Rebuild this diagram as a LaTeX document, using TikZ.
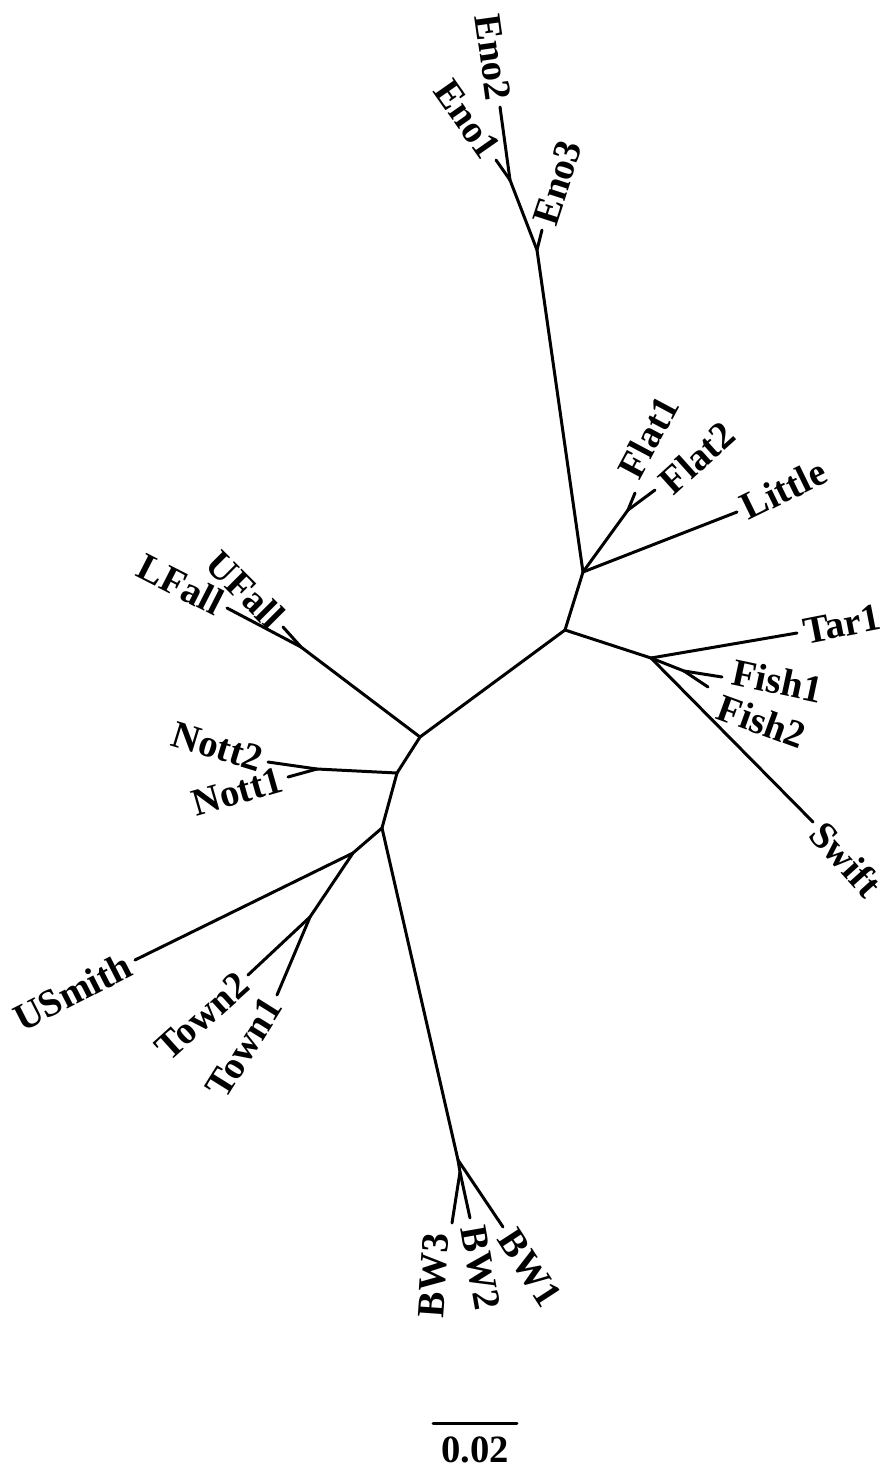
\documentclass[tikz,border=0pt]{standalone}
\usepackage{fontspec}
\setmainfont{Liberation Serif}
\usetikzlibrary{positioning}

\begin{document}
\begin{tikzpicture}[x=0.02cm, y=-0.02cm, line width=1.7pt, line cap=round,
    taxon/.style={font=\fontsize{22}{26}\selectfont\bfseries, inner sep=3pt}]
    \useasboundingbox (0,0) rectangle (886,1471);
    % inner nodes of the tree
    \coordinate (eno) at (537,250);
    \coordinate (eno12) at (510,180);
    \coordinate (flatlit) at (583,572);
    \coordinate (flat) at (628,510);
    \coordinate (mid) at (565,630);
    \coordinate (tar) at (651,658);
    \coordinate (fish) at (684,671);
    \coordinate (fall) at (420,737);
    \coordinate (ufall) at (301,647);
    \coordinate (nott) at (397,773);
    \coordinate (nott12) at (317,769);
    \coordinate (bw) at (382,828);
    \coordinate (usm) at (353,853);
    \coordinate (town) at (310,917);
    \coordinate (bw123) at (458,1160);
    \coordinate (bw23) at (460,1172);
    % tips
    \coordinate (eno2) at (500,107);
    \coordinate (eno1) at (496,160);
    \coordinate (eno3) at (542,230);
    \coordinate (flat1) at (635,493);
    \coordinate (flat2) at (655,490);
    \coordinate (little) at (737,512);
    \coordinate (tar1) at (797,633);
    \coordinate (fish1) at (722,677);
    \coordinate (fish2) at (708,687);
    \coordinate (swift) at (813,822);
    \coordinate (lfall) at (227,608);
    \coordinate (ufalltip) at (283,627);
    \coordinate (nott2) at (268,762);
    \coordinate (nott1) at (288,777);
    \coordinate (usmith) at (135,960);
    \coordinate (town2) at (248,975);
    \coordinate (town1) at (277,995);
    \coordinate (bw3) at (452,1223);
    \coordinate (bw2) at (470,1218);
    \coordinate (bw1) at (503,1227);

    % branches
    \path (eno) edge (eno12) edge (eno3) edge (flatlit);
    \path (eno12) edge (eno2) edge (eno1);
    \path (flatlit) edge (flat) edge (little) edge (mid);
    \path (flat) edge (flat1) edge (flat2);
    \path (mid) edge (tar) edge (fall);
    \path (tar) edge (tar1) edge (fish) edge (swift);
    \path (fish) edge (fish1) edge (fish2);
    \path (fall) edge (ufall) edge (nott);
    \path (ufall) edge (lfall) edge (ufalltip);
    \path (nott) edge (nott12) edge (bw);
    \path (nott12) edge (nott2) edge (nott1);
    \path (bw) edge (usm) edge (bw123);
    \path (usm) edge (usmith) edge (town);
    \path (town) edge (town2) edge (town1);
    \path (bw123) edge (bw1) edge (bw23);
    \path (bw23) edge (bw2) edge (bw3);

    % taxon labels
    \node[taxon, anchor=east, rotate=-82] (leno2) at (eno2) {Eno2};
    \node[taxon, anchor=east, rotate=-55] (leno1) at (eno1) {Eno1};
    \node[taxon, anchor=west, rotate=72] (leno3) at (eno3) {Eno3};
    \node[taxon, anchor=west, rotate=62] (lflat1) at ([shift={(-10,-12)}]flat1) {Flat1};
    \node[taxon, anchor=west, rotate=42] (lflat2) at ([shift={(5,1)}]flat2) {Flat2};
    \node[taxon, anchor=west, rotate=26] (llittle) at (little) {Little};
    \node[taxon, anchor=west, rotate=11] (ltar1) at (tar1) {Tar1};
    \node[taxon, anchor=west, rotate=-12] (lfish1) at ([shift={(5,-7)}]fish1) {Fish1};
    \node[taxon, anchor=west, rotate=-20] (lfish2) at ([shift={(5,17)}]fish2) {Fish2};
    \node[taxon, anchor=west, rotate=-48] (lswift) at (swift) {Swift};
    \node[taxon, anchor=east, rotate=-27] (llfall) at (lfall) {LFall};
    \node[taxon, anchor=east, rotate=-45] (lufall) at (ufalltip) {UFall};
    \node[taxon, anchor=east, rotate=-17] (lnott2) at (nott2) {Nott2};
    \node[taxon, anchor=east, rotate=16] (lnott1) at (nott1) {Nott1};
    \node[taxon, anchor=east, rotate=27] (lusmith) at (usmith) {USmith};
    \node[taxon, anchor=east, rotate=42] (ltown2) at (town2) {Town2};
    \node[taxon, anchor=east, rotate=58] (ltown1) at (town1) {Town1};
    \node[taxon, anchor=east, rotate=86] (lbw3) at ([shift={(-15,4)}]bw3) {BW3};
    \node[taxon, anchor=west, rotate=-80] (lbw2) at ([shift={(2,2)}]bw2) {BW2};
    \node[taxon, anchor=west, rotate=-57] (lbw1) at (bw1) {BW1};

    % scale bar
    \coordinate (sbl) at (433,1423);
    \coordinate (sbr) at (517,1423);
    \coordinate (sbmid) at (475,1423);
    \draw (sbl) -- (sbr);
    \node[taxon, below=4pt of sbmid] (scale) {0.02};
\end{tikzpicture}
\end{document}
